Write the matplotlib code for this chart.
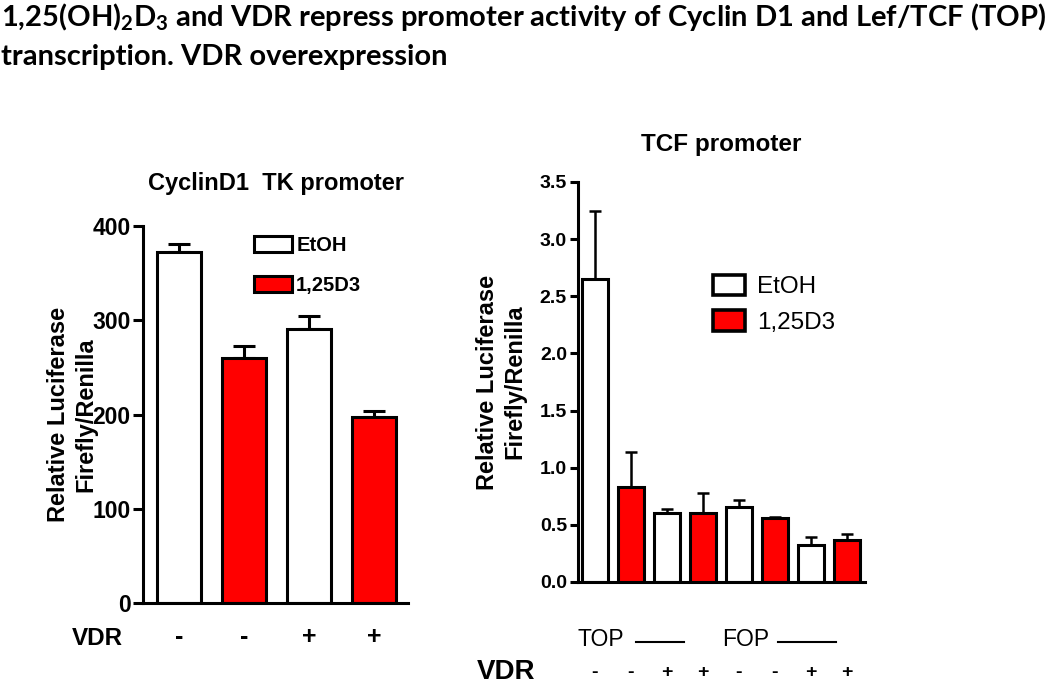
import matplotlib
matplotlib.use("Agg")
import matplotlib.pyplot as plt
from matplotlib.patches import Patch
import numpy as np

# data
cyc_vdr = ["-", "-", "+", "+"]
cyc_mean = [372, 260, 291, 197]
cyc_err = [9, 13, 14, 7]
cyc_colors = ["white", "red", "white", "red"]

tcf_vdr = ["-", "-", "+", "+", "-", "-", "+", "+"]
tcf_mean = [2.65, 0.83, 0.60, 0.60, 0.655, 0.56, 0.32, 0.37]
tcf_err = [0.60, 0.31, 0.04, 0.18, 0.06, 0.01, 0.07, 0.05]
tcf_colors = ["white", "red"] * 4

W, H = 1050, 683
fig = plt.figure(figsize=(W / 100, H / 100), dpi=100)
fig.patch.set_facecolor("white")

def px_axes(x0, x1, y_top, y_bot):
    return fig.add_axes([x0 / W, (H - y_bot) / H, (x1 - x0) / W, (y_bot - y_top) / H])

arial = "Liberation Sans"

# title
fig.text(0.001, 1 - 1 / H,
         "1,25(OH)$\\mathregular{_2}$D$\\mathregular{_3}$ and VDR repress promoter activity of Cyclin D1 and Lef/TCF (TOP)\n"
         "transcription. VDR overexpression",
         family="Lato", weight="bold", fontsize=21, va="top", ha="left", linespacing=1.5)

# ---- left panel
ax1 = px_axes(143, 408, 226, 603)
x1 = np.arange(len(cyc_mean))
ax1.errorbar(x1, cyc_mean, yerr=[np.zeros(4), cyc_err], fmt="none", ecolor="black",
             elinewidth=2.2, capsize=8, capthick=2.2, zorder=1)
ax1.bar(x1, cyc_mean, width=0.68, color=cyc_colors, edgecolor="black", linewidth=2.2, zorder=2)
ax1.set_xlim(-0.554, 3.523)
ax1.set_ylim(0, 400)
ax1.set_yticks([0, 100, 200, 300, 400])
ax1.set_xticks(x1)
ax1.set_xticklabels(cyc_vdr, fontsize=18, weight="bold", family=arial)
ax1.tick_params(axis="x", length=0, pad=16)
ax1.tick_params(axis="y", length=7, width=2.2, pad=2, labelsize=16.5)
for lab in ax1.get_yticklabels():
    lab.set_fontweight("bold"); lab.set_family(arial)
for s in ["top", "right"]:
    ax1.spines[s].set_visible(False)
for s in ["left", "bottom"]:
    ax1.spines[s].set_linewidth(2.2)
ax1.set_ylabel("Relative Luciferase\nFirefly/Renilla", fontsize=17, weight="bold",
               family=arial, linespacing=1.2, labelpad=0)
ax1.yaxis.set_label_coords((97 - 143) / 265, 0.5)
ax1.set_title("CyclinD1  TK promoter", fontsize=17, weight="bold", family=arial, pad=26)
ax1.text(-0.171, -0.093, "VDR", transform=ax1.transAxes, fontsize=17.5, weight="bold",
         family=arial, ha="center", va="center")
h1 = [Patch(facecolor="white", edgecolor="black", linewidth=2.2),
      Patch(facecolor="red", edgecolor="black", linewidth=2.2)]
ax1.legend(h1, ["EtOH", "1,25D3"], loc="upper left", bbox_to_anchor=(0.35, 1.022),
           frameon=False, handlelength=1.9, handleheight=0.8, handletextpad=0.2,
           labelspacing=1.05, prop={"family": arial, "weight": "bold", "size": 14.5})

# ---- right panel
ax2 = px_axes(578, 865, 182, 582)
x2 = np.arange(len(tcf_mean))
ax2.errorbar(x2, tcf_mean, yerr=[np.zeros(8), tcf_err], fmt="none", ecolor="black",
             elinewidth=1.8, capsize=4, capthick=1.8, zorder=1)
ax2.bar(x2, tcf_mean, width=0.72, color=tcf_colors, edgecolor="black", linewidth=2.2, zorder=2)
ax2.set_xlim(-0.47, 7.5)
ax2.set_ylim(0, 3.5)
ax2.set_yticks(np.arange(0, 3.51, 0.5))
ax2.set_yticklabels([f"{v:.1f}" for v in np.arange(0, 3.51, 0.5)])
ax2.set_xticks(x2)
ax2.set_xticklabels(tcf_vdr, fontsize=14, weight="bold", family=arial)
ax2.tick_params(axis="x", length=0, pad=59)
ax2.tick_params(axis="y", length=6, width=2.2, pad=2, labelsize=14)
for lab in ax2.get_yticklabels():
    lab.set_fontweight("bold"); lab.set_family(arial)
for s in ["top", "right"]:
    ax2.spines[s].set_visible(False)
for s in ["left", "bottom"]:
    ax2.spines[s].set_linewidth(2.2)
ax2.set_ylabel("Relative Luciferase\nFirefly/Renilla", fontsize=17, weight="bold",
               family=arial, linespacing=1.2, labelpad=0)
ax2.yaxis.set_label_coords((526 - 578) / 287, 0.5)
ax2.set_title("TCF promoter", fontsize=17.5, weight="bold", family=arial, pad=22)
ax2.text(-0.251, -0.224, "VDR", transform=ax2.transAxes, fontsize=20, weight="bold",
         family=arial, ha="center", va="center")
ax2.text(0.0, -0.145, "TOP", transform=ax2.transAxes, fontsize=16.5, family=arial,
         ha="left", va="center")
ax2.text(0.502, -0.145, "FOP", transform=ax2.transAxes, fontsize=16.5, family=arial,
         ha="left", va="center")
ax2.plot([(636 - 578) / 287, (684 - 578) / 287], [-0.15, -0.15], color="black", lw=1.5,
         transform=ax2.transAxes, clip_on=False)
ax2.plot([(778 - 578) / 287, (836 - 578) / 287], [-0.15, -0.15], color="black", lw=1.5,
         transform=ax2.transAxes, clip_on=False)
h2 = [Patch(facecolor="white", edgecolor="black", linewidth=2.6),
      Patch(facecolor="red", edgecolor="black", linewidth=2.6)]
ax2.legend(h2, ["EtOH", "1,25D3"], loc="upper left", bbox_to_anchor=(0.395, 0.8225),
           frameon=False, handlelength=1.3, handleheight=0.9, handletextpad=0.5,
           labelspacing=0.5, prop={"family": arial, "size": 17.5})

fig.savefig("out.png", dpi=100, facecolor="white")
